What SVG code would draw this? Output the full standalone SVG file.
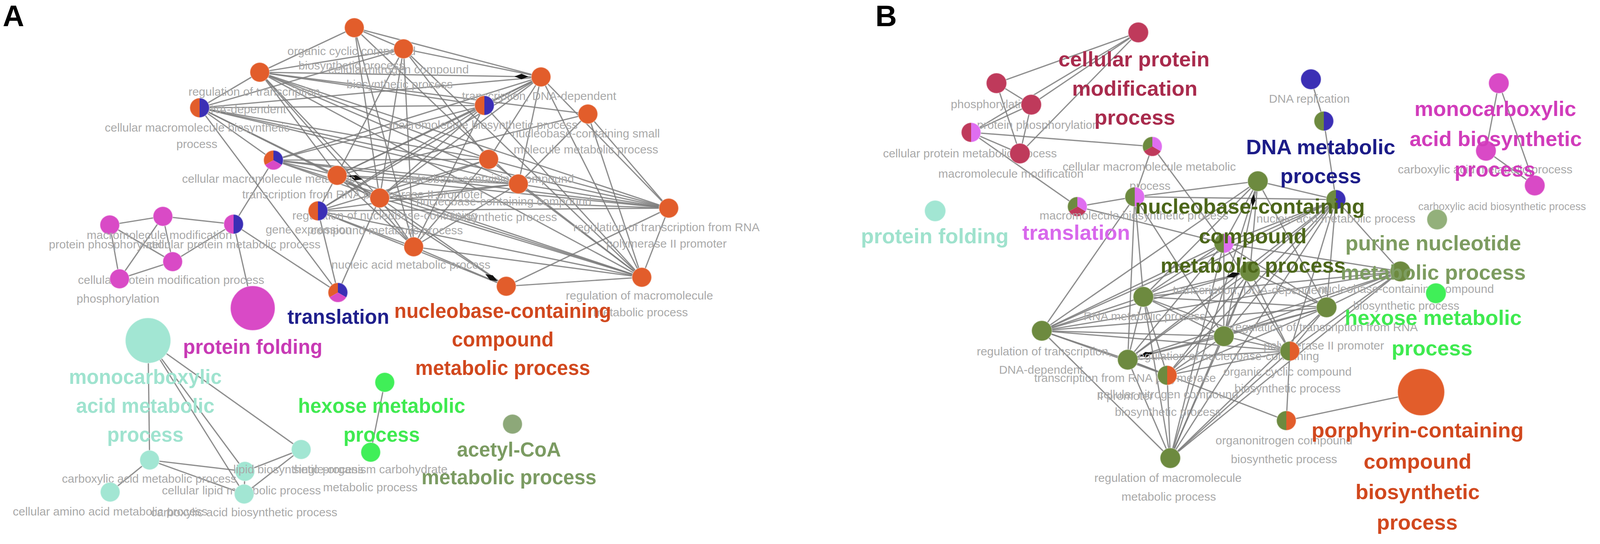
<svg xmlns="http://www.w3.org/2000/svg" width="4200" height="1393" viewBox="0 0 4200 1393">
<defs>
<style>
.e{stroke:#7a7a7a;stroke-width:3.2;stroke-opacity:.85;fill:none}
.s{font-family:"Liberation Sans",Arial,sans-serif;font-size:30px;fill:#a9a9a9;text-anchor:middle}
.g{font-family:"Liberation Sans",Arial,sans-serif;font-weight:bold;text-anchor:middle}
.la{font-size:51px}
.lb{font-size:54px}
.pl{font-family:"Liberation Sans",Arial,sans-serif;font-weight:bold;font-size:76px;fill:#000}
.k{stroke:#ffffff;stroke-opacity:.35;stroke-width:2.5}
.nf{fill:none}
.f-or{fill:#e25d2b}
.f-bl{fill:#3b2fb5}
.f-pk{fill:#d94ac6}
.f-tl{fill:#a2e6d3}
.f-gr{fill:#40ef58}
.f-ac{fill:#8da879}
.f-cr{fill:#bf3a5b}
.f-lp{fill:#df6ef0}
.f-ol{fill:#6d8a3f}
.f-lo{fill:#93b07b}
.dm{fill:#111}
</style>
<path id="hl" d="M0,-25 A25,25 0 0 0 0,25 Z"/>
<path id="hr" d="M0,-25 A25,25 0 0 1 0,25 Z"/>
<path id="s1" d="M0,0 L0,-25 A25,25 0 0 0 -21.65,12.5 Z"/>
<path id="s2" d="M0,0 L0,-25 A25,25 0 0 1 21.65,12.5 Z"/>
<path id="s3" d="M0,0 L21.65,12.5 A25,25 0 0 1 -21.65,12.5 Z"/>
</defs>
<rect x="0" y="0" width="4200" height="1393" fill="#ffffff"/>

<g id="connectors">
<g id="edges-a">
<line class="e" x1="665" y1="185" x2="907" y2="71"/>
<line class="e" x1="665" y1="185" x2="1033" y2="125"/>
<line class="e" x1="665" y1="185" x2="1385" y2="197"/>
<line class="e" x1="665" y1="185" x2="1240" y2="270"/>
<line class="e" x1="665" y1="185" x2="511" y2="276"/>
<line class="e" x1="665" y1="185" x2="1251" y2="408"/>
<line class="e" x1="665" y1="185" x2="863" y2="449"/>
<line class="e" x1="665" y1="185" x2="1327" y2="471"/>
<line class="e" x1="665" y1="185" x2="972" y2="507"/>
<line class="e" x1="665" y1="185" x2="1712" y2="533"/>
<line class="e" x1="665" y1="185" x2="1643" y2="710"/>
<line class="e" x1="665" y1="185" x2="1505" y2="292"/>
<line class="e" x1="665" y1="185" x2="1059" y2="632"/>
<line class="e" x1="511" y1="276" x2="1033" y2="125"/>
<line class="e" x1="511" y1="276" x2="1385" y2="197"/>
<line class="e" x1="511" y1="276" x2="1240" y2="270"/>
<line class="e" x1="511" y1="276" x2="1251" y2="408"/>
<line class="e" x1="511" y1="276" x2="863" y2="449"/>
<line class="e" x1="511" y1="276" x2="1327" y2="471"/>
<line class="e" x1="511" y1="276" x2="972" y2="507"/>
<line class="e" x1="511" y1="276" x2="700" y2="410"/>
<line class="e" x1="511" y1="276" x2="865" y2="749"/>
<line class="e" x1="511" y1="276" x2="1712" y2="533"/>
<line class="e" x1="907" y1="71" x2="1033" y2="125"/>
<line class="e" x1="907" y1="71" x2="1385" y2="197"/>
<line class="e" x1="907" y1="71" x2="972" y2="507"/>
<line class="e" x1="907" y1="71" x2="1059" y2="632"/>
<line class="e" x1="907" y1="71" x2="1327" y2="471"/>
<line class="e" x1="1033" y1="125" x2="1385" y2="197"/>
<line class="e" x1="1033" y1="125" x2="1059" y2="632"/>
<line class="e" x1="1033" y1="125" x2="1251" y2="408"/>
<line class="e" x1="1033" y1="125" x2="972" y2="507"/>
<line class="e" x1="1033" y1="125" x2="1643" y2="710"/>
<line class="e" x1="1033" y1="125" x2="814" y2="540"/>
<line class="e" x1="1385" y1="197" x2="1240" y2="270"/>
<line class="e" x1="1385" y1="197" x2="1251" y2="408"/>
<line class="e" x1="1385" y1="197" x2="863" y2="449"/>
<line class="e" x1="1385" y1="197" x2="1327" y2="471"/>
<line class="e" x1="1385" y1="197" x2="814" y2="540"/>
<line class="e" x1="1385" y1="197" x2="1712" y2="533"/>
<line class="e" x1="1385" y1="197" x2="1643" y2="710"/>
<line class="e" x1="1385" y1="197" x2="972" y2="507"/>
<line class="e" x1="1385" y1="197" x2="700" y2="410"/>
<line class="e" x1="1240" y1="270" x2="863" y2="449"/>
<line class="e" x1="1240" y1="270" x2="814" y2="540"/>
<line class="e" x1="1240" y1="270" x2="972" y2="507"/>
<line class="e" x1="1240" y1="270" x2="1059" y2="632"/>
<line class="e" x1="1240" y1="270" x2="1643" y2="710"/>
<line class="e" x1="1240" y1="270" x2="700" y2="410"/>
<line class="e" x1="1505" y1="292" x2="1643" y2="710"/>
<line class="e" x1="1505" y1="292" x2="1327" y2="471"/>
<line class="e" x1="1505" y1="292" x2="863" y2="449"/>
<line class="e" x1="1505" y1="292" x2="1712" y2="533"/>
<line class="e" x1="700" y1="410" x2="863" y2="449"/>
<line class="e" x1="700" y1="410" x2="1251" y2="408"/>
<line class="e" x1="700" y1="410" x2="1327" y2="471"/>
<line class="e" x1="700" y1="410" x2="972" y2="507"/>
<line class="e" x1="700" y1="410" x2="1712" y2="533"/>
<line class="e" x1="700" y1="410" x2="1643" y2="710"/>
<line class="e" x1="700" y1="410" x2="598" y2="574"/>
<line class="e" x1="1251" y1="408" x2="972" y2="507"/>
<line class="e" x1="1251" y1="408" x2="1643" y2="710"/>
<line class="e" x1="1251" y1="408" x2="1712" y2="533"/>
<line class="e" x1="1251" y1="408" x2="1059" y2="632"/>
<line class="e" x1="1251" y1="408" x2="814" y2="540"/>
<line class="e" x1="863" y1="449" x2="972" y2="507"/>
<line class="e" x1="863" y1="449" x2="1059" y2="632"/>
<line class="e" x1="863" y1="449" x2="1643" y2="710"/>
<line class="e" x1="863" y1="449" x2="1327" y2="471"/>
<line class="e" x1="863" y1="449" x2="1712" y2="533"/>
<line class="e" x1="863" y1="449" x2="1296" y2="733"/>
<line class="e" x1="1327" y1="471" x2="972" y2="507"/>
<line class="e" x1="1327" y1="471" x2="1712" y2="533"/>
<line class="e" x1="1327" y1="471" x2="1643" y2="710"/>
<line class="e" x1="1327" y1="471" x2="814" y2="540"/>
<line class="e" x1="1327" y1="471" x2="1059" y2="632"/>
<line class="e" x1="972" y1="507" x2="1059" y2="632"/>
<line class="e" x1="972" y1="507" x2="1643" y2="710"/>
<line class="e" x1="972" y1="507" x2="1712" y2="533"/>
<line class="e" x1="972" y1="507" x2="1296" y2="733"/>
<line class="e" x1="972" y1="507" x2="865" y2="749"/>
<line class="e" x1="814" y1="540" x2="1059" y2="632"/>
<line class="e" x1="814" y1="540" x2="865" y2="749"/>
<line class="e" x1="814" y1="540" x2="1643" y2="710"/>
<line class="e" x1="814" y1="540" x2="1296" y2="733"/>
<line class="e" x1="814" y1="540" x2="1712" y2="533"/>
<line class="e" x1="1059" y1="632" x2="1643" y2="710"/>
<line class="e" x1="1059" y1="632" x2="1296" y2="733"/>
<line class="e" x1="1712" y1="533" x2="1643" y2="710"/>
<line class="e" x1="1712" y1="533" x2="1296" y2="733"/>
<line class="e" x1="1643" y1="710" x2="1296" y2="733"/>
<line class="e" x1="281" y1="576" x2="417" y2="554"/>
<line class="e" x1="281" y1="576" x2="442" y2="670"/>
<line class="e" x1="281" y1="576" x2="306" y2="714"/>
<line class="e" x1="417" y1="554" x2="442" y2="670"/>
<line class="e" x1="417" y1="554" x2="306" y2="714"/>
<line class="e" x1="417" y1="554" x2="598" y2="574"/>
<line class="e" x1="442" y1="670" x2="598" y2="574"/>
<line class="e" x1="598" y1="574" x2="647" y2="789"/>
<line class="e" x1="598" y1="574" x2="865" y2="749"/>
<line class="e" x1="442" y1="670" x2="306" y2="714"/>
<line class="e" x1="379" y1="872" x2="383" y2="1178"/>
<line class="e" x1="379" y1="872" x2="627" y2="1207"/>
<line class="e" x1="379" y1="872" x2="625" y2="1265"/>
<line class="e" x1="379" y1="872" x2="771" y2="1151"/>
<line class="e" x1="383" y1="1178" x2="282" y2="1260"/>
<line class="e" x1="383" y1="1178" x2="627" y2="1207"/>
<line class="e" x1="383" y1="1178" x2="625" y2="1265"/>
<line class="e" x1="627" y1="1207" x2="625" y2="1265"/>
<line class="e" x1="627" y1="1207" x2="771" y2="1151"/>
<line class="e" x1="625" y1="1265" x2="771" y2="1151"/>
<line class="e" x1="985" y1="979" x2="949" y2="1158"/>
</g>
<g id="edges-b">
<line class="e" x1="2551" y1="213" x2="2914" y2="83"/>
<line class="e" x1="2640" y1="268" x2="2914" y2="83"/>
<line class="e" x1="2611" y1="393" x2="2914" y2="83"/>
<line class="e" x1="2486" y1="339" x2="2914" y2="83"/>
<line class="e" x1="2551" y1="213" x2="2640" y2="268"/>
<line class="e" x1="2551" y1="213" x2="2611" y2="393"/>
<line class="e" x1="2640" y1="268" x2="2486" y2="339"/>
<line class="e" x1="2640" y1="268" x2="2611" y2="393"/>
<line class="e" x1="2486" y1="339" x2="2611" y2="393"/>
<line class="e" x1="2486" y1="339" x2="2950" y2="375"/>
<line class="e" x1="2486" y1="339" x2="2758" y2="529"/>
<line class="e" x1="2758" y1="529" x2="2905" y2="504"/>
<line class="e" x1="2758" y1="529" x2="3133" y2="623"/>
<line class="e" x1="2950" y1="375" x2="2905" y2="504"/>
<line class="e" x1="2950" y1="375" x2="3133" y2="623"/>
<line class="e" x1="2905" y1="504" x2="3420" y2="511"/>
<line class="e" x1="2905" y1="504" x2="3220" y2="464"/>
<line class="e" x1="2905" y1="504" x2="2927" y2="760"/>
<line class="e" x1="2905" y1="504" x2="2667" y2="847"/>
<line class="e" x1="2905" y1="504" x2="3133" y2="861"/>
<line class="e" x1="2905" y1="504" x2="2887" y2="921"/>
<line class="e" x1="3220" y1="464" x2="3133" y2="623"/>
<line class="e" x1="3133" y1="623" x2="2927" y2="760"/>
<line class="e" x1="3133" y1="623" x2="3396" y2="787"/>
<line class="e" x1="3133" y1="623" x2="3133" y2="861"/>
<line class="e" x1="3133" y1="623" x2="2887" y2="921"/>
<line class="e" x1="3133" y1="623" x2="3302" y2="899"/>
<line class="e" x1="3133" y1="623" x2="2996" y2="1173"/>
<line class="e" x1="3133" y1="623" x2="2667" y2="847"/>
<line class="e" x1="3133" y1="623" x2="3420" y2="511"/>
<line class="e" x1="3133" y1="623" x2="3585" y2="695"/>
<line class="e" x1="3220" y1="464" x2="3420" y2="511"/>
<line class="e" x1="3220" y1="464" x2="3200" y2="695"/>
<line class="e" x1="3220" y1="464" x2="3396" y2="787"/>
<line class="e" x1="3220" y1="464" x2="2667" y2="847"/>
<line class="e" x1="3220" y1="464" x2="3133" y2="861"/>
<line class="e" x1="3220" y1="464" x2="2927" y2="760"/>
<line class="e" x1="3220" y1="464" x2="2996" y2="1173"/>
<line class="e" x1="3356" y1="203" x2="3389" y2="310"/>
<line class="e" x1="3389" y1="310" x2="3420" y2="511"/>
<line class="e" x1="3420" y1="511" x2="3585" y2="695"/>
<line class="e" x1="3420" y1="511" x2="3200" y2="695"/>
<line class="e" x1="3420" y1="511" x2="2927" y2="760"/>
<line class="e" x1="3420" y1="511" x2="3133" y2="861"/>
<line class="e" x1="3420" y1="511" x2="3302" y2="899"/>
<line class="e" x1="3420" y1="511" x2="2667" y2="847"/>
<line class="e" x1="3420" y1="511" x2="2996" y2="1173"/>
<line class="e" x1="3420" y1="511" x2="2887" y2="921"/>
<line class="e" x1="3420" y1="511" x2="3396" y2="787"/>
<line class="e" x1="3420" y1="511" x2="2988" y2="961"/>
<line class="e" x1="3200" y1="695" x2="2667" y2="847"/>
<line class="e" x1="3200" y1="695" x2="2927" y2="760"/>
<line class="e" x1="3200" y1="695" x2="3396" y2="787"/>
<line class="e" x1="3200" y1="695" x2="3133" y2="861"/>
<line class="e" x1="3200" y1="695" x2="3302" y2="899"/>
<line class="e" x1="3200" y1="695" x2="2996" y2="1173"/>
<line class="e" x1="3200" y1="695" x2="2887" y2="921"/>
<line class="e" x1="3200" y1="695" x2="2988" y2="961"/>
<line class="e" x1="3200" y1="695" x2="3585" y2="695"/>
<line class="e" x1="3585" y1="695" x2="2667" y2="847"/>
<line class="e" x1="3585" y1="695" x2="2927" y2="760"/>
<line class="e" x1="3585" y1="695" x2="3133" y2="861"/>
<line class="e" x1="3585" y1="695" x2="3396" y2="787"/>
<line class="e" x1="3585" y1="695" x2="3302" y2="899"/>
<line class="e" x1="3585" y1="695" x2="2996" y2="1173"/>
<line class="e" x1="3585" y1="695" x2="2887" y2="921"/>
<line class="e" x1="2667" y1="847" x2="2927" y2="760"/>
<line class="e" x1="2667" y1="847" x2="3396" y2="787"/>
<line class="e" x1="2667" y1="847" x2="3133" y2="861"/>
<line class="e" x1="2667" y1="847" x2="2996" y2="1173"/>
<line class="e" x1="2667" y1="847" x2="3302" y2="899"/>
<line class="e" x1="2667" y1="847" x2="2988" y2="961"/>
<line class="e" x1="2667" y1="847" x2="2887" y2="921"/>
<line class="e" x1="2927" y1="760" x2="3396" y2="787"/>
<line class="e" x1="2927" y1="760" x2="3133" y2="861"/>
<line class="e" x1="2927" y1="760" x2="2887" y2="921"/>
<line class="e" x1="2927" y1="760" x2="2996" y2="1173"/>
<line class="e" x1="2927" y1="760" x2="2988" y2="961"/>
<line class="e" x1="2927" y1="760" x2="3302" y2="899"/>
<line class="e" x1="3396" y1="787" x2="3133" y2="861"/>
<line class="e" x1="3396" y1="787" x2="3302" y2="899"/>
<line class="e" x1="3396" y1="787" x2="2996" y2="1173"/>
<line class="e" x1="3396" y1="787" x2="2988" y2="961"/>
<line class="e" x1="3396" y1="787" x2="2887" y2="921"/>
<line class="e" x1="3133" y1="861" x2="2887" y2="921"/>
<line class="e" x1="3133" y1="861" x2="3302" y2="899"/>
<line class="e" x1="3133" y1="861" x2="2996" y2="1173"/>
<line class="e" x1="3133" y1="861" x2="2988" y2="961"/>
<line class="e" x1="2887" y1="921" x2="2988" y2="961"/>
<line class="e" x1="2887" y1="921" x2="2996" y2="1173"/>
<line class="e" x1="2887" y1="921" x2="3293" y2="1077"/>
<line class="e" x1="2887" y1="921" x2="3302" y2="899"/>
<line class="e" x1="3302" y1="899" x2="3293" y2="1077"/>
<line class="e" x1="3302" y1="899" x2="2988" y2="961"/>
<line class="e" x1="3302" y1="899" x2="2996" y2="1173"/>
<line class="e" x1="2988" y1="961" x2="2996" y2="1173"/>
<line class="e" x1="3293" y1="1077" x2="3638" y2="1004"/>
<line class="e" x1="3837" y1="213" x2="3804" y2="386"/>
<line class="e" x1="3837" y1="213" x2="3929" y2="475"/>
<line class="e" x1="3804" y1="386" x2="3929" y2="475"/>
</g>
<g id="arrowheads">
<polygon class="dm" points="-18,0 0,-7 18,0 0,7" transform="translate(1335,196) rotate(1)"/>
<polygon class="dm" points="-18,0 0,-7 18,0 0,7" transform="translate(910,455) rotate(15)"/>
<polygon class="dm" points="-18,0 0,-7 18,0 0,7" transform="translate(1258,711) rotate(30)"/>
<polygon class="dm" points="-16,0 0,-6 16,0 0,6" transform="translate(3208,513) rotate(95)"/>
<polygon class="dm" points="-18,0 0,-7 18,0 0,7" transform="translate(2934,908) rotate(-15)"/>
<polygon class="dm" points="-18,0 0,-7 18,0 0,7" transform="translate(3157,704) rotate(-15)"/>
</g>
</g>

<g id="panel-labels">
<text class="pl" x="7" y="67">A</text>
<text class="pl" x="2241" y="67">B</text>
</g>

<g id="nodes-a">
<g id="a1"><circle class="f-or k" cx="907" cy="71" r="25"/><text class="s" x="900" y="141">organic cyclic compound</text><text class="s" x="900" y="178">biosynthetic process</text></g>
<g id="a2"><circle class="f-or k" cx="1033" cy="125" r="25"/><text class="s" x="1020" y="188">cellular nitrogen compound</text><text class="s" x="1023" y="226">biosynthetic process</text></g>
<g id="a3"><circle class="f-or k" cx="665" cy="185" r="25"/><text class="s" x="655" y="245">regulation of transcription,</text><text class="s" x="625" y="290">DNA-dependent</text></g>
<g id="a4"><use href="#hl" x="511" y="276" class="f-or"/><use href="#hr" x="511" y="276" class="f-bl"/><circle class="k nf" cx="511" cy="276" r="25"/><text class="s" x="505" y="337">cellular macromolecule biosynthetic</text><text class="s" x="504" y="379">process</text></g>
<g id="a5"><circle class="f-or k" cx="1385" cy="197" r="25"/><text class="s" x="1380" y="256">transcription, DNA-dependent</text></g>
<g id="a6"><use href="#hl" x="1240" y="270" class="f-or"/><use href="#hr" x="1240" y="270" class="f-bl"/><circle class="k nf" cx="1240" cy="270" r="25"/><text class="s" x="1237" y="330">macromolecule biosynthetic process</text></g>
<g id="a7"><circle class="f-or k" cx="1505" cy="292" r="25"/><text class="s" x="1500" y="352">nucleobase-containing small</text><text class="s" x="1500" y="393">molecule metabolic process</text></g>
<g id="a8"><use href="#s1" x="700" y="410" class="f-or"/><use href="#s2" x="700" y="410" class="f-bl"/><use href="#s3" x="700" y="410" class="f-pk"/><circle class="k nf" cx="700" cy="410" r="25"/><text class="s" x="466" y="468" style="text-anchor:start">cellular macromolecule metabolic</text></g>
<g id="a9"><circle class="f-or k" cx="1251" cy="408" r="25"/><text class="s" x="1245" y="468">nucleobase-containing compound</text></g>
<g id="a10"><circle class="f-or k" cx="863" cy="449" r="25"/><text class="s" x="620" y="508" style="text-anchor:start">transcription from RNA polymerase II promoter</text></g>
<g id="a11"><circle class="f-or k" cx="1327" cy="471" r="25"/><text class="s" x="1290" y="526">nucleobase-containing compound</text><text class="s" x="1290" y="566">biosynthetic process</text></g>
<g id="a12"><circle class="f-or k" cx="972" cy="507" r="25"/><text class="s" x="985" y="562">regulation of nucleobase-containing</text><text class="s" x="990" y="600">compound metabolic process</text></g>
<g id="a13"><use href="#hl" x="814" y="540" class="f-or"/><use href="#hr" x="814" y="540" class="f-bl"/><circle class="k nf" cx="814" cy="540" r="25"/><text class="s" x="790" y="598">gene expression</text></g>
<g id="a14"><circle class="f-or k" cx="1059" cy="632" r="25"/><text class="s" x="1052" y="688">nucleic acid metabolic process</text></g>
<g id="a15"><circle class="f-or k" cx="1712" cy="533" r="25"/><text class="s" x="1706" y="592">regulation of transcription from RNA</text><text class="s" x="1706" y="634">polymerase II promoter</text></g>
<g id="a16"><circle class="f-or k" cx="1643" cy="710" r="25"/><text class="s" x="1637" y="767">regulation of macromolecule</text><text class="s" x="1640" y="810">metabolic process</text></g>
<g id="a17"><circle class="f-or k" cx="1296" cy="733" r="25"/></g>
<g id="a18"><use href="#s1" x="865" y="749" class="f-or"/><use href="#s2" x="865" y="749" class="f-bl"/><use href="#s3" x="865" y="749" class="f-pk"/><circle class="k nf" cx="865" cy="749" r="25"/></g>
<g id="p1"><circle class="f-pk k" cx="281" cy="576" r="25"/><text class="s" x="281" y="636">protein phosphorylation</text></g>
<g id="p2"><circle class="f-pk k" cx="417" cy="554" r="25"/><text class="s" x="408" y="612">macromolecule modification</text></g>
<g id="p3"><use href="#hl" x="598" y="574" class="f-pk"/><use href="#hr" x="598" y="574" class="f-bl"/><circle class="k nf" cx="598" cy="574" r="25"/><text class="s" x="598" y="636">cellular protein metabolic process</text></g>
<g id="p4"><circle class="f-pk k" cx="442" cy="670" r="25"/><text class="s" x="438" y="727">cellular protein modification process</text></g>
<g id="p5"><circle class="f-pk k" cx="306" cy="714" r="25"/><text class="s" x="302" y="775">phosphorylation</text></g>
<g id="pf"><circle class="f-pk k" cx="647" cy="789" r="57"/></g>
<g id="t1"><circle class="f-tl k" cx="379" cy="872" r="58"/></g>
<g id="t2"><circle class="f-tl k" cx="383" cy="1178" r="25"/><text class="s" x="382" y="1236">carboxylic acid metabolic process</text></g>
<g id="t3"><circle class="f-tl k" cx="282" cy="1260" r="25"/><text class="s" x="282" y="1320">cellular amino acid metabolic process</text></g>
<g id="t4"><circle class="f-tl k" cx="627" cy="1207" r="25"/><text class="s" x="618" y="1266">cellular lipid metabolic process</text></g>
<g id="t5"><circle class="f-tl k" cx="625" cy="1265" r="25"/><text class="s" x="625" y="1322">carboxylic acid biosynthetic process</text></g>
<g id="t6"><circle class="f-tl k" cx="771" cy="1151" r="25"/><text class="s" x="764" y="1212">lipid biosynthetic process</text></g>
<g id="g1"><circle class="f-gr k" cx="985" cy="979" r="25"/></g>
<g id="g2"><circle class="f-gr k" cx="949" cy="1158" r="25"/><text class="s" x="948" y="1212">single-organism carbohydrate</text><text class="s" x="948" y="1258">metabolic process</text></g>
<g id="o1"><circle class="f-ac k" cx="1312" cy="1086" r="25"/></g>
</g>

<g id="nodes-b">
<g id="c1"><circle class="f-cr k" cx="2551" cy="213" r="26"/><text class="s" x="2540" y="277">phosphorylation</text></g>
<g id="c2"><circle class="f-cr k" cx="2640" cy="268" r="26"/><text class="s" x="2657" y="330">protein phosphorylation</text></g>
<g id="c3"><use href="#hl" x="2486" y="339" class="f-cr"/><use href="#hr" x="2486" y="339" class="f-lp"/><circle class="k nf" cx="2486" cy="339" r="25"/><text class="s" x="2483" y="403">cellular protein metabolic process</text></g>
<g id="c4"><circle class="f-cr k" cx="2611" cy="393" r="26"/><text class="s" x="2588" y="455">macromolecule modification</text></g>
<g id="c5"><circle class="f-cr k" cx="2914" cy="83" r="26"/></g>
<g id="tri1"><use href="#s1" x="2758" y="529" class="f-ol"/><use href="#s2" x="2758" y="529" class="f-lp"/><use href="#s3" x="2758" y="529" class="f-cr"/><circle class="k nf" cx="2758" cy="529" r="25"/></g>
<g id="tri2"><use href="#s1" x="2950" y="375" class="f-ol"/><use href="#s2" x="2950" y="375" class="f-lp"/><use href="#s3" x="2950" y="375" class="f-cr"/><circle class="k nf" cx="2950" cy="375" r="25"/><text class="s" x="2942" y="437">cellular macromolecule metabolic</text><text class="s" x="2944" y="486">process</text></g>
<g id="op1"><use href="#hl" x="2905" y="504" class="f-ol"/><use href="#hr" x="2905" y="504" class="f-lp"/><circle class="k nf" cx="2905" cy="504" r="25"/><text class="s" x="2903" y="562">macromolecule biosynthetic process</text></g>
<g id="op2"><use href="#hl" x="3133" y="623" class="f-ol"/><use href="#hr" x="3133" y="623" class="f-lp"/><circle class="k nf" cx="3133" cy="623" r="25"/></g>
<g id="bpf"><circle class="f-tl k" cx="2394" cy="540" r="27"/></g>
<g id="d1"><circle class="f-bl k" cx="3356" cy="203" r="26"/><text class="s" x="3352" y="263">DNA replication</text></g>
<g id="d2"><use href="#hl" x="3389" y="310" class="f-ol"/><use href="#hr" x="3389" y="310" class="f-bl"/><circle class="k nf" cx="3389" cy="310" r="25"/></g>
<g id="d3"><use href="#hl" x="3420" y="511" class="f-ol"/><use href="#hr" x="3420" y="511" class="f-bl"/><circle class="k nf" cx="3420" cy="511" r="25"/><text class="s" x="3420" y="570">nucleic acid metabolic process</text></g>
<g id="bo1"><circle class="f-ol k" cx="3220" cy="464" r="26"/></g>
<g id="bo2"><circle class="f-ol k" cx="3200" cy="695" r="26"/><text class="s" x="3200" y="753">transcription, DNA-dependent</text></g>
<g id="m1"><circle class="f-pk k" cx="3837" cy="213" r="26"/></g>
<g id="m2"><circle class="f-pk k" cx="3804" cy="386" r="26"/><text class="s" x="3802" y="444">carboxylic acid metabolic process</text></g>
<g id="m3"><circle class="f-pk k" cx="3929" cy="475" r="26"/><text class="s" x="4060" y="538" style="text-anchor:end;font-size:27px">carboxylic acid biosynthetic process</text></g>
<g id="lo"><circle class="f-lo k" cx="3679" cy="562" r="26"/></g>
<g id="bo3"><circle class="f-ol k" cx="3585" cy="695" r="26"/><text class="s" x="3600" y="750">nucleobase-containing compound</text><text class="s" x="3600" y="793">biosynthetic process</text></g>
<g id="bg"><circle class="f-gr k" cx="3676" cy="751" r="26"/></g>
<g id="por"><circle class="f-or k" cx="3638" cy="1004" r="60"/></g>
<g id="bo4"><circle class="f-ol k" cx="2667" cy="847" r="26"/><text class="s" x="2673" y="910">regulation of transcription,</text><text class="s" x="2665" y="957">DNA-dependent</text></g>
<g id="bo5"><circle class="f-ol k" cx="2927" cy="760" r="26"/><text class="s" x="2930" y="820">RNA metabolic process</text></g>
<g id="bo6"><circle class="f-ol k" cx="3396" cy="787" r="26"/><text class="s" x="3391" y="848">regulation of transcription from RNA</text><text class="s" x="3389" y="895">polymerase II promoter</text></g>
<g id="bo7"><circle class="f-ol k" cx="3133" cy="861" r="26"/><text class="s" x="3140" y="922">regulation of nucleobase-containing</text></g>
<g id="bo8"><circle class="f-ol k" cx="2887" cy="921" r="26"/><text class="s" x="2880" y="978">transcription from RNA polymerase</text><text class="s" x="2880" y="1024">II promoter</text></g>
<g id="ho1"><use href="#hl" x="3302" y="899" class="f-ol"/><use href="#hr" x="3302" y="899" class="f-or"/><circle class="k nf" cx="3302" cy="899" r="25"/><text class="s" x="3296" y="962">organic cyclic compound</text><text class="s" x="3296" y="1005">biosynthetic process</text></g>
<g id="ho2"><use href="#hl" x="2988" y="961" class="f-ol"/><use href="#hr" x="2988" y="961" class="f-or"/><circle class="k nf" cx="2988" cy="961" r="25"/><text class="s" x="2990" y="1020">cellular nitrogen compound</text><text class="s" x="2990" y="1065">biosynthetic process</text></g>
<g id="ho3"><use href="#hl" x="3293" y="1077" class="f-ol"/><use href="#hr" x="3293" y="1077" class="f-or"/><circle class="k nf" cx="3293" cy="1077" r="25"/><text class="s" x="3287" y="1138">organonitrogen compound</text><text class="s" x="3287" y="1186">biosynthetic process</text></g>
<g id="bo9"><circle class="f-ol k" cx="2996" cy="1173" r="26"/><text class="s" x="2990" y="1234">regulation of macromolecule</text><text class="s" x="2992" y="1282">metabolic process</text></g>
</g>

<g id="group-labels-a">
<text class="g la" x="866" y="829" fill="#1f1f8c">translation</text>
<text class="g la" x="647" y="906" fill="#c83ab5">protein folding</text>
<text class="g la" x="1287" y="814" fill="#d1481e">nucleobase-containing</text>
<text class="g la" x="1287" y="887" fill="#d1481e">compound</text>
<text class="g la" x="1287" y="960" fill="#d1481e">metabolic process</text>
<text class="g la" x="372" y="983" fill="#9fe3cf">monocarboxylic</text>
<text class="g la" x="372" y="1057" fill="#9fe3cf">acid metabolic</text>
<text class="g la" x="372" y="1131" fill="#9fe3cf">process</text>
<text class="g la" x="977" y="1057" fill="#3fea50">hexose metabolic</text>
<text class="g la" x="977" y="1131" fill="#3fea50">process</text>
<text class="g la" x="1303" y="1169" fill="#7b9b62">acetyl-CoA</text>
<text class="g la" x="1303" y="1240" fill="#7b9b62">metabolic process</text>
</g>
<g id="group-labels-b">
<text class="g lb" x="2903" y="170" fill="#a92b4d">cellular protein</text>
<text class="g lb" x="2905" y="245" fill="#a92b4d">modification</text>
<text class="g lb" x="2905" y="319" fill="#a92b4d">process</text>
<text class="g lb" x="3381" y="395" fill="#1c1c88">DNA metabolic</text>
<text class="g lb" x="3381" y="469" fill="#1c1c88">process</text>
<text class="g lb" x="3828" y="297" fill="#d13cbb">monocarboxylic</text>
<text class="g lb" x="3829" y="374" fill="#d13cbb">acid biosynthetic</text>
<text class="g lb" x="3827" y="452" fill="#d13cbb">process</text>
<text class="g lb" x="2393" y="623" fill="#9fe2cd">protein folding</text>
<text class="g lb" x="2755" y="614" fill="#d868ec">translation</text>
<text class="g lb" x="3200" y="547" fill="#4c6619">nucleobase-containing</text>
<text class="g lb" x="3207" y="623" fill="#4c6619">compound</text>
<text class="g lb" x="3208" y="698" fill="#4c6619">metabolic process</text>
<text class="g lb" x="3669" y="641" fill="#7d9c60">purine nucleotide</text>
<text class="g lb" x="3669" y="716" fill="#7d9c60">metabolic process</text>
<text class="g lb" x="3669" y="832" fill="#3fea50">hexose metabolic</text>
<text class="g lb" x="3666" y="910" fill="#3fea50">process</text>
<text class="g lb" x="3629" y="1120" fill="#d1481e">porphyrin-containing</text>
<text class="g lb" x="3629" y="1200" fill="#d1481e">compound</text>
<text class="g lb" x="3629" y="1278" fill="#d1481e">biosynthetic</text>
<text class="g lb" x="3628" y="1356" fill="#d1481e">process</text>
</g>
</svg>
